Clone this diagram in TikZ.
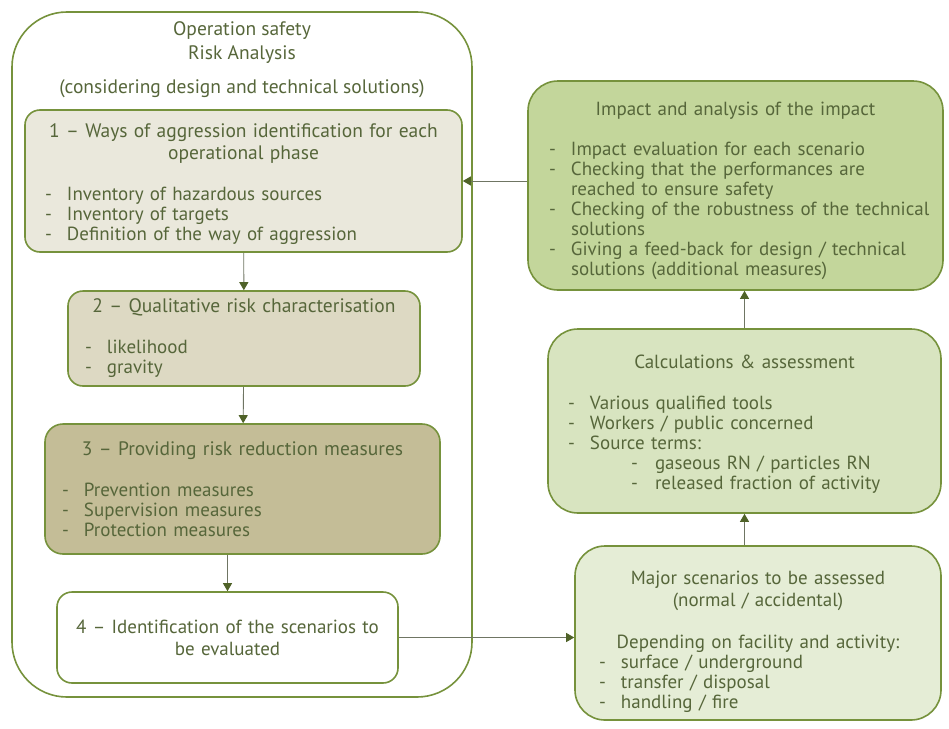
\documentclass[tikz,border=0pt]{standalone}
\usepackage{fontspec}
\setmainfont{PT Sans}
\usepackage{xcolor}
\usetikzlibrary{positioning,arrows.meta,calc}

\definecolor{oliveline}{HTML}{76923C}
\definecolor{olivetext}{HTML}{56663A}
\definecolor{olivearrow}{HTML}{4F6228}
\definecolor{arrowline}{HTML}{6F7563}
\definecolor{phaseone}{HTML}{EAE8DC}
\definecolor{phasetwo}{HTML}{DDD9C3}
\definecolor{phasethree}{HTML}{C4BD97}
\definecolor{impactfill}{HTML}{C3D69B}
\definecolor{calcfill}{HTML}{D8E4C0}
\definecolor{majorfill}{HTML}{E5EDD6}

\hyphenpenalty=10000
\exhyphenpenalty=10000

% list items with a dash
\newcommand{\li}[1]{\par\hangindent=22pt\hangafter=1\noindent\makebox[22pt][l]{-}#1}
\newcommand{\lii}[1]{\par\hangindent=87pt\hangafter=1\noindent\hspace*{63pt}\makebox[24pt][l]{-}#1}
% invisible strut to push the first line down
\newcommand{\topstrut}[1]{\rule{0pt}{#1}}

\begin{document}
\begin{tikzpicture}[x=1pt, y=-1pt]
    % Define styles
    \tikzset{box/.style={draw=oliveline, line width=1.6pt, inner xsep=20pt, inner ysep=0pt, align=left, text=olivetext, font=\fontsize{19}{20}\selectfont}}
    \tikzset{phase/.style={box, rounded corners=15pt}}
    \tikzset{result/.style={box, rounded corners=30pt}}
    \tikzset{flow/.style={draw=arrowline, line width=0.9pt, -{Triangle[width=9pt,length=8pt,color=olivearrow]}}}

    \useasboundingbox (0,0) rectangle (949,728);

    % Draw analysis frame
    \node[draw=oliveline, line width=1.6pt, rounded corners=55pt, minimum width=460pt, minimum height=685pt] (analysis) at (242,354.5) {};
    \node[align=center, text=olivetext, font=\fontsize{19.5}{24}\selectfont] (title) at (242,60) {Operation safety\\Risk Analysis\\[10pt](considering design and technical solutions)};

    % Draw phases of the analysis
    \node[phase, fill=phaseone, minimum width=437pt, minimum height=142pt, text width=405pt, inner xsep=16pt] (phase1) at (243.5,181) {%
        {\centering\fontsize{19.5}{22}\selectfont\topstrut{20pt}1 -- Ways of aggression identification for each\\operational phase\par}\vskip 21pt
        \leftskip=4pt
        \li{Inventory of hazardous sources}
        \li{Inventory of targets}
        \li{Definition of the way of aggression}\par};
    \node[phase, fill=phasetwo, minimum width=352pt, minimum height=95pt, text width=318pt, inner xsep=17pt] (phase2) at (244,338.5) {%
        {\centering\fontsize{19.5}{22}\selectfont 2 -- Qualitative risk characterisation\par}\vskip 21pt
        \li{likelihood}
        \li{gravity}\par};
    \node[phase, fill=phasethree, rounded corners=18pt, minimum width=395pt, minimum height=130pt, text width=361pt, inner xsep=17pt] (phase3) at (242.5,489) {%
        {\centering\fontsize{19.5}{22}\selectfont 3 -- Providing risk reduction measures\par}\vskip 21pt
        \li{Prevention measures}
        \li{Supervision measures}
        \li{Protection measures}\par};
    \node[phase, fill=white, minimum width=341pt, minimum height=91pt, text width=315pt, inner xsep=13pt] (phase4) at (227.5,637.5) {%
        {\centering\fontsize{19}{22}\selectfont 4 -- Identification of the scenarios to\\be evaluated\par}};

    % Draw assessment boxes
    \node[result, fill=impactfill, minimum width=415pt, minimum height=209pt, text width=393pt, inner xsep=11pt] (impact) at (735.5,185.5) {%
        {\centering\topstrut{24pt}Impact and analysis of the impact\par}\vskip 20pt
        \leftskip=10pt
        \li{Impact evaluation for each scenario}
        \li{Checking that the performances are\newline reached to ensure safety}
        \li{Checking of the robustness of the technical\newline solutions}
        \li{Giving a feed-back for design / technical\newline solutions (additional measures)}\par};
    \node[result, fill=calcfill, minimum width=393pt, minimum height=184pt, text width=353pt, inner xsep=20pt] (calc) at (744.5,421) {%
        {\centering\topstrut{20pt}Calculations \& assessment\par}\vskip 21pt
        \li{Various qualified tools}
        \li{Workers / public concerned}
        \li{Source terms:}
        \lii{gaseous RN / particles RN}
        \lii{released fraction of activity}\par};
    \node[result, fill=majorfill, minimum width=366pt, minimum height=174pt, text width=330pt, inner xsep=18pt] (major) at (758,633) {%
        {\centering\topstrut{32pt}Major scenarios to be assessed\\[2pt](normal / accidental)\par}\vskip 22pt
        {\centering Depending on facility and activity:\par}
        \leftskip=6pt
        \li{surface / underground}
        \li{transfer / disposal}
        \li{handling / fire}\par};

    % Connect the boxes
    \draw[flow] (phase1) -- (phase2);
    \draw[flow] (phase2) -- (phase3);
    \draw[flow] (phase3.south -| phase4.north) -- (phase4.north);
    \draw[flow] (phase4.east) -- (phase4.east -| major.west);
    \draw[flow] (major.north -| calc.south) -- (calc.south);
    \draw[flow] (calc.north) -- (calc.north |- impact.south);
    \draw[flow] (impact.west |- phase1.east) -- (phase1.east);

\end{tikzpicture}
\end{document}
